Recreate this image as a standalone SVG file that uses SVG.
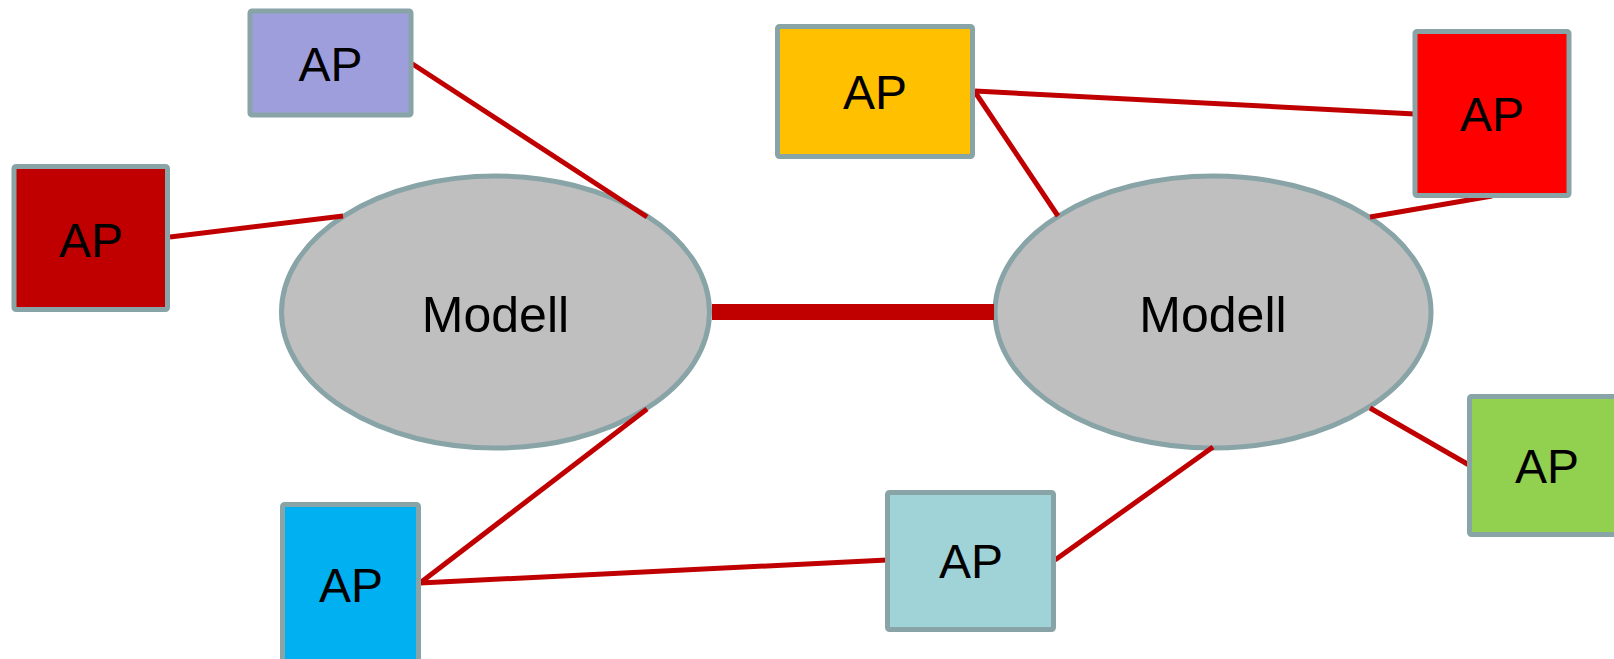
<svg xmlns="http://www.w3.org/2000/svg" width="1614" height="659" viewBox="0 0 1614 659">
<style>
.box{stroke:#88A4A7;stroke-width:5;stroke-linejoin:round}
.ell{fill:#BFBFBF;stroke:#88A4A7;stroke-width:5}
.lbl{font-family:"Liberation Sans",Arial,sans-serif;font-size:48px;fill:#000;text-anchor:middle}
.mlbl{font-family:"Liberation Sans",Arial,sans-serif;font-size:50px;fill:#000;text-anchor:middle}
.c{stroke:#C00000;stroke-width:5;fill:none}
</style>
<rect width="1614" height="659" fill="#fff"/>
<g id="nodes-ellipses">
<g id="modell1"><ellipse class="ell" cx="495.5" cy="312" rx="214" ry="136"/><text class="mlbl" x="495.5" y="332">Modell</text></g>
<g id="modell2"><ellipse class="ell" cx="1213" cy="312" rx="218" ry="136"/><text class="mlbl" x="1213" y="332">Modell</text></g>
</g>
<g id="connectors">
<line class="c" x1="411" y1="63" x2="647" y2="217"/>
<line class="c" x1="170" y1="237" x2="343" y2="216"/>
<line class="c" x1="712" y1="312" x2="994" y2="312" style="stroke-width:16"/>
<line class="c" x1="647" y1="409" x2="420" y2="583"/>
<line class="c" x1="420" y1="583" x2="887" y2="560"/>
<line class="c" x1="1055" y1="560" x2="1213" y2="447"/>
<line class="c" x1="1370" y1="408" x2="1469" y2="465"/>
<line class="c" x1="975" y1="91" x2="1415" y2="114"/>
<line class="c" x1="975" y1="92" x2="1058" y2="216"/>
<line class="c" x1="1492" y1="196" x2="1370" y2="217"/>
</g>
<g id="ap-purple"><rect class="box" x="250" y="11" width="161" height="104" rx="2" fill="#9E9EDD"/><text class="lbl" x="330.5" y="81">AP</text></g>
<g id="ap-darkred"><rect class="box" x="14" y="166.5" width="153.5" height="143" rx="2" fill="#C00000"/><text class="lbl" x="91" y="257">AP</text></g>
<g id="ap-yellow"><rect class="box" x="777.5" y="26.5" width="195" height="130" rx="2" fill="#FFC000"/><text class="lbl" x="875" y="109">AP</text></g>
<g id="ap-red"><rect class="box" x="1415" y="31.5" width="154" height="164" rx="2" fill="#FF0000"/><text class="lbl" x="1492" y="131">AP</text></g>
<g id="ap-blue"><rect class="box" x="282.5" y="504.5" width="136" height="200" rx="2" fill="#00B0F0"/><text class="lbl" x="351" y="602">AP</text></g>
<g id="ap-lightblue"><rect class="box" x="887.5" y="492.5" width="166" height="137" rx="2" fill="#A0D3D8"/><text class="lbl" x="971" y="578">AP</text></g>
<g id="ap-green"><rect class="box" x="1469.5" y="396.5" width="170" height="138" rx="2" fill="#92D050"/><text class="lbl" x="1547" y="483">AP</text></g>
</svg>
